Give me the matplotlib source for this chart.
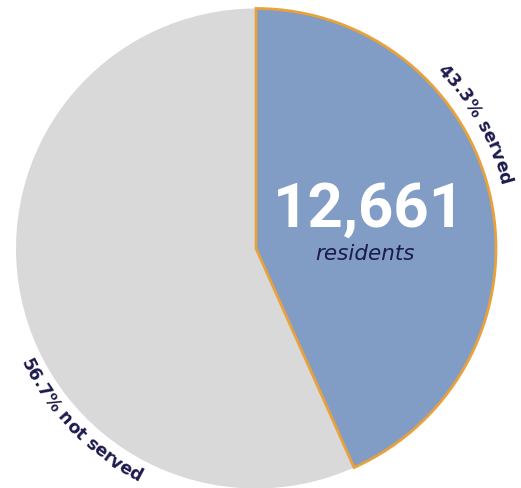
import numpy as np
import matplotlib.pyplot as plt
from matplotlib import font_manager
from matplotlib.ft2font import FT2Font

# data
labels = ["served", "not served"]
shares = [43.3, 56.7]
residents_served = 12661

blue = "#819dc5"
grey = "#d9d9d9"
orange = "#e9a23b"
navy = "#1c1b4d"

fig = plt.figure(figsize=(5.21, 4.88), dpi=100)
ax = fig.add_axes([0, 0, 1, 1])

cx, cy, rad = 256, 239.5, 240
wedges, _ = ax.pie(shares, startangle=90, counterclock=False, center=(cx, cy),
                   radius=rad, colors=[blue, grey])
wedges[0].set_edgecolor(orange)
wedges[0].set_linewidth(2)
wedges[0].set_zorder(3)
wedges[1].set_linewidth(0)

ax.set_xlim(0, 521)
ax.set_ylim(0, 488)
ax.set_aspect("equal")
ax.axis("off")


def advances(text, fp):
    font = FT2Font(font_manager.findfont(fp))
    font.set_size(fp.get_size_in_points(), fig.dpi)
    out = []
    for ch in text:
        g = font.load_char(ord(ch))
        out.append(g.linearHoriAdvance / 65536.0)
    return np.array(out)


def curved_text(text, r, center_deg, clockwise, size):
    fp = font_manager.FontProperties(family="DejaVu Sans", weight="bold", size=size)
    adv = advances(text, fp)
    starts = np.concatenate([[0], np.cumsum(adv)[:-1]])
    mids = starts + adv / 2 - adv.sum() / 2
    for ch, m in zip(text, mids):
        off = np.degrees(m / r)
        if clockwise:
            th = center_deg - off
            rot = th - 90
        else:
            th = center_deg + off
            rot = th + 90
        x = cx + r * np.cos(np.radians(th))
        y = cy + r * np.sin(np.radians(th))
        ax.text(x, y, ch, fontproperties=fp, color=navy, rotation=rot,
                rotation_mode="anchor", ha="center", va="baseline")


curved_text(f"{shares[0]}% {labels[0]}", 253, 29.5, True, 12.5)
curved_text(f"{shares[1]}% {labels[1]}", 261, 224.5, False, 12.5)

ax.text(369, 261, f"{residents_served:,}", family="Roboto", weight="bold",
        fontsize=44.5, color="white", ha="center", va="baseline")
ax.text(365, 228, "residents", family="DejaVu Sans", style="italic",
        fontsize=15.5, color=navy, ha="center", va="baseline")

fig.savefig("out.png", dpi=100)
